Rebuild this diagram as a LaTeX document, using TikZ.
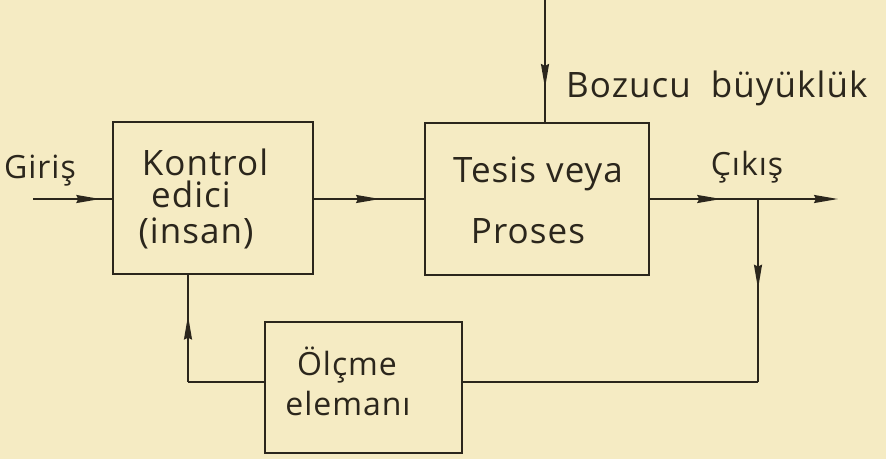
\documentclass[tikz,border=0pt]{standalone}
\usepackage{fontspec}
\setmainfont{Open Sans}[LetterSpace=3]
\usetikzlibrary{arrows.meta,decorations.markings,calc}
\definecolor{paper}{HTML}{F5EBC3}
\definecolor{ink}{HTML}{2B261C}
\tikzset{
  blk/.style={draw=ink, line width=1.7pt, rectangle, inner sep=0pt},
  txt/.style={font=\fontsize{35}{40}\selectfont, text=ink, inner sep=0pt, anchor=base},
  stxt/.style={font=\fontsize{32}{38}\selectfont, text=ink, inner sep=0pt, anchor=base},
  wire/.style={draw=ink, line width=1.7pt},
  tip/.style={-{Stealth[length=24pt,width=8pt,inset=2pt]}},
  midarrow/.style={postaction={decorate},decoration={markings,
    mark=at position #1 with {\arrow{Stealth[length=24pt,width=8pt,inset=2pt]}}}}
}
\begin{document}
\begin{tikzpicture}[x=1pt,y=-1pt]
\fill[paper] (0,0) rectangle (886,459);
\useasboundingbox (0,0) rectangle (886,459);

% boxes
\node[blk, minimum width=200pt, minimum height=152pt] (kon) at (213,198) {};
\node[blk, minimum width=224pt, minimum height=152pt] (tes) at (537,199) {};
\node[blk, minimum width=197pt, minimum height=131pt] (olc) at (363.5,387.5) {};

% box texts
\node[txt] (kon1) at (205,175) {Kontrol};
\node[txt] (kon2) at (191,207) {edici};
\node[txt] (kon3) at (196,243) {(insan)};
\node[txt] (tes1) at (538,182) {Tesis veya};
\node[txt] (tes2) at (528,243) {Proses};
\node[stxt] (olc1) at (347,375) {Ölçme};
\node[stxt] (olc2) at (348,415) {elemanı};

% labels
\node[stxt] (giris) at (40,178) {Giriş};
\node[txt, anchor=base west] (boz) at (566,97) {Bozucu\hspace{20pt}büyüklük};
\node[stxt] (cikis) at (747,175) {Çıkış};

% connector points
\coordinate (gin) at (33,199);
\coordinate (bz) at (545,0);
\coordinate (br) at (758,199);
\coordinate (out) at (838,199);
\coordinate (brd) at (758,382);
\coordinate (fbl) at (188,382);

% connectors
\path[wire, midarrow=0.85] (gin) -- (kon.west |- gin);
\path[wire, midarrow=0.6] (kon.east |- gin) -- (tes.west |- gin);
\path[wire, midarrow=0.72] (bz) -- (bz |- tes.north);
\path[wire, midarrow=0.66] (tes.east |- br) -- (br);
\draw[wire, tip] (br) -- (out);
\path[wire, midarrow=0.49] (br) -- (brd);
\draw[wire] (brd) -- (brd -| olc.east);
\draw[wire] (fbl -| olc.west) -- (fbl);
\path[wire, midarrow=0.62] (fbl) -- (fbl |- kon.south);
\end{tikzpicture}
\end{document}
